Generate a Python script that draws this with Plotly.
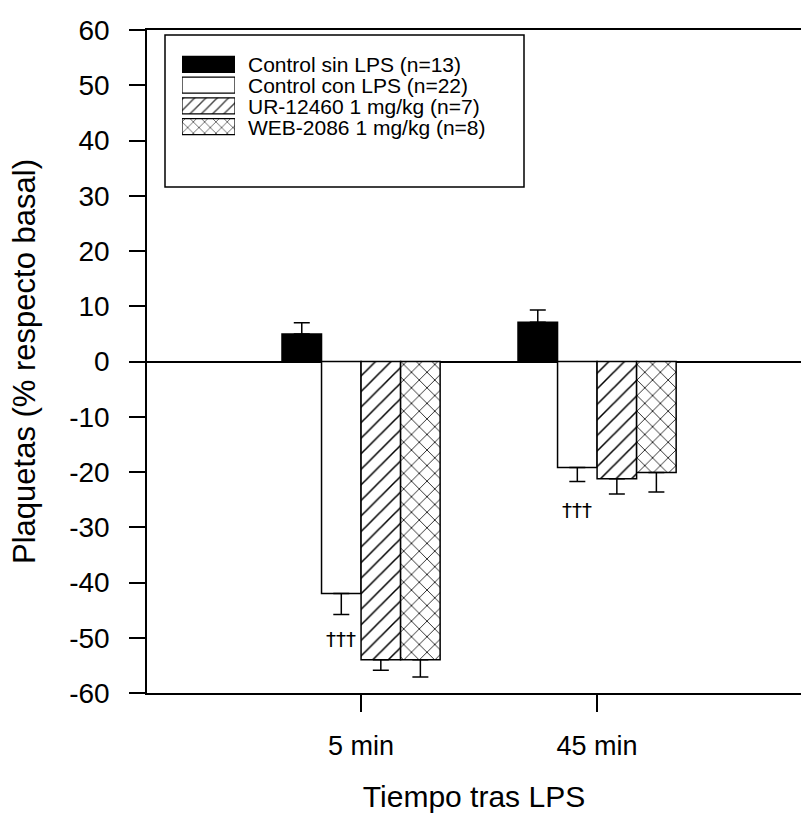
import plotly.graph_objects as go

# ---- data ----
categories = ["5 min", "45 min"]
series_names = [
    "Control sin LPS (n=13)",
    "Control con LPS (n=22)",
    "UR-12460 1 mg/kg (n=7)",
    "WEB-2086 1 mg/kg (n=8)",
]
control_sin = [5.0, 7.1]
control_sin_err = [2.0, 2.2]
control_con = [-42.0, -19.2]
control_con_err = [3.8, 2.5]
ur12460 = [-54.0, -21.2]
ur12460_err = [1.9, 2.8]
web2086 = [-54.0, -20.1]
web2086_err = [3.1, 3.5]
dagger_label = "†††"
y_ticks = list(range(-60, 61, 10))
y_ticktext = [str(v) for v in y_ticks]

values = [control_sin, control_con, ur12460, web2086]
errors = [control_sin_err, control_con_err, ur12460_err, web2086_err]

# styles
fills = ["black", "white", "white", "white"]
shapes = ["", "", "/", "x"]

FONT = "Liberation Sans, Arial, sans-serif"

fig = go.Figure()
for name, vals, errs, fc, sh in zip(series_names, values, errors, fills, shapes):
    up = [e if v >= 0 else 0 for v, e in zip(vals, errs)]
    down = [e if v < 0 else 0 for v, e in zip(vals, errs)]
    fig.add_trace(go.Bar(
        x=categories, y=vals, name=name, showlegend=False,
        marker=dict(color=fc, line=dict(color="black", width=1.5),
                    pattern=dict(shape=sh, fgcolor="black", bgcolor="white",
                                 fgopacity=1, size=11, solidity=0.14)),
        error_y=dict(type="data", symmetric=False, array=up, arrayminus=down,
                     color="black", thickness=1.5, width=8),
    ))

# legend swatches on an inset axis pair
fig.add_trace(go.Bar(
    x=[1, 1, 1, 1], y=[0, 1, 2, 3], orientation="h", width=0.78,
    xaxis="x2", yaxis="y2", showlegend=False, hoverinfo="skip",
    marker=dict(color=fills, line=dict(color="black", width=1.2),
                pattern=dict(shape=shapes, fgcolor="black", bgcolor="white",
                             fgopacity=1, size=8, solidity=0.18)),
))

W, H = 801, 819
L, R, T, B = 147, 0, 30, 126
pw, ph = W - L - R, H - T - B

def px(x):
    return (x - L) / pw

def py(y):
    return (H - B - y) / ph

row_px = [64, 85, 106, 127]
for name, ry in zip(series_names, row_px):
    fig.add_annotation(x=px(246), y=py(ry), xref="paper", yref="paper",
                       text=name, showarrow=False, xanchor="left", yanchor="middle",
                       font=dict(family=FONT, size=21, color="black"))

fig.add_shape(type="rect", xref="paper", yref="paper",
              x0=px(165), x1=px(524), y0=py(187), y1=py(35),
              line=dict(color="black", width=1.5), fillcolor="rgba(0,0,0,0)")

# significance markers under Control con LPS bars
fig.add_annotation(x=-0.0833, y=control_con[0] - control_con_err[0] - 4.5,
                   text=dagger_label, showarrow=False,
                   font=dict(family="DejaVu Sans, sans-serif", size=20, color="black"))
fig.add_annotation(x=0.9167, y=control_con[1] - control_con_err[1] - 5.2,
                   text=dagger_label, showarrow=False,
                   font=dict(family="DejaVu Sans, sans-serif", size=20, color="black"))

fig.update_layout(
    width=W, height=H,
    margin=dict(l=L, r=R, t=T, b=B),
    paper_bgcolor="white", plot_bgcolor="white",
    barmode="group", bargap=0.33, bargroupgap=0,
    font=dict(family=FONT, color="black"),
    xaxis=dict(
        type="category", range=[-0.907, 1.864],
        showline=True, linecolor="black", linewidth=1.5, mirror=True,
        ticks="outside", ticklen=17, tickwidth=1.5, tickcolor="black",
        showgrid=False, zeroline=False,
        tickfont=dict(family=FONT, size=27),
        ticklabelstandoff=11,
        title=dict(text="Tiempo tras LPS", font=dict(family=FONT, size=30), standoff=26),
        automargin=False,
    ),
    yaxis=dict(
        range=[-60, 60], tickvals=y_ticks, ticktext=y_ticktext,
        showline=True, linecolor="black", linewidth=1.5,
        ticks="outside", ticklen=16, tickwidth=1.5, tickcolor="black",
        showgrid=False, zeroline=True, zerolinecolor="black", zerolinewidth=1.5,
        tickfont=dict(family=FONT, size=28),
        ticklabelstandoff=14,
        title=dict(text="Plaquetas (% respecto basal)", font=dict(family=FONT, size=31), standoff=24),
        automargin=False,
    ),
    xaxis2=dict(domain=[px(182), px(235)], range=[0, 1], visible=False,
                anchor="y2", fixedrange=True),
    yaxis2=dict(domain=[py(137), py(54)], range=[3.5, -0.5], visible=False,
                anchor="x2", fixedrange=True),
)

fig.write_html("out.html")
